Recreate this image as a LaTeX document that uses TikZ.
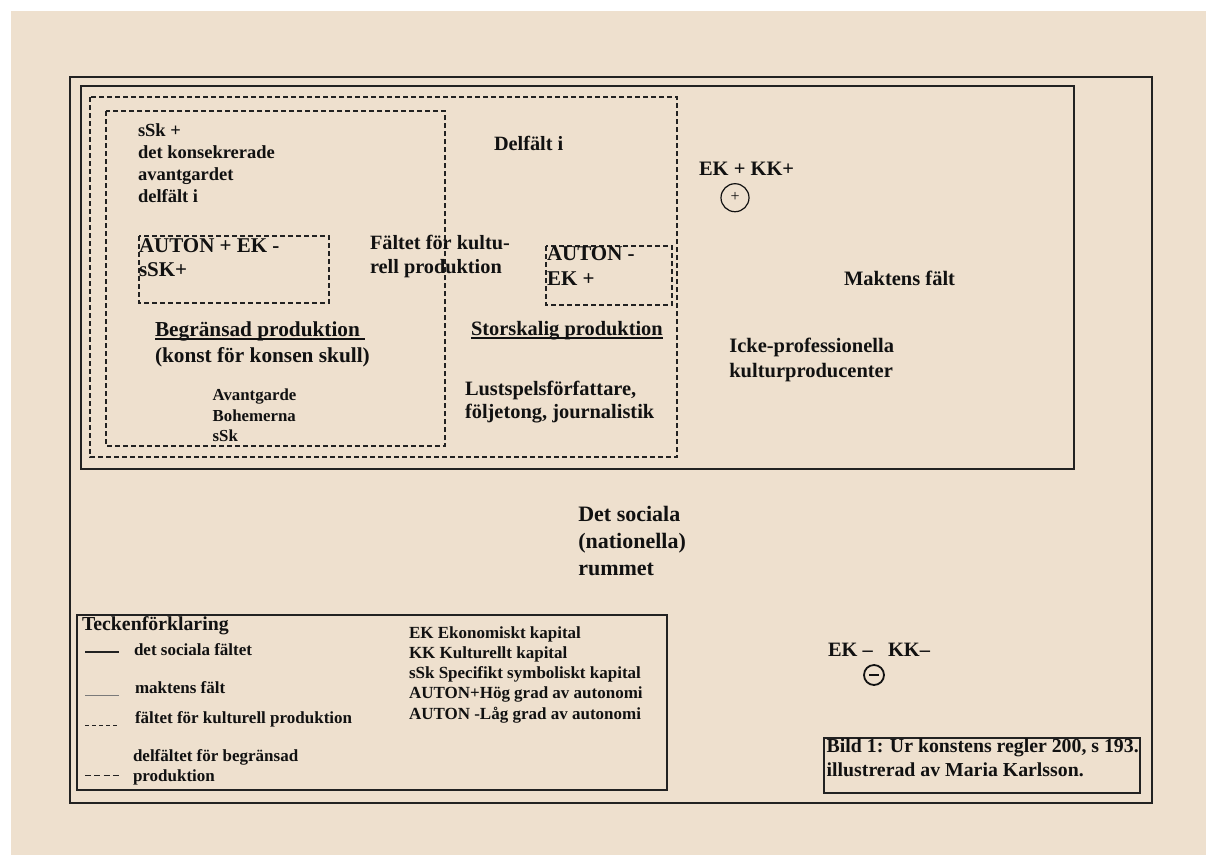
\documentclass[tikz,border=0pt]{standalone}
\usepackage{fontspec}
\setmainfont{Liberation Serif}
\definecolor{bg}{HTML}{EEE0CE}
\definecolor{ink}{HTML}{111111}
\definecolor{lineink}{HTML}{222222}
\definecolor{greyline}{HTML}{7A7A7A}
\tikzset{
  txt/.style={anchor=base west, inner sep=0pt, outer sep=0pt, text=ink,
    font=\bfseries\fontsize{#1}{#1}\selectfont},
  % multi-line: anchor is the baseline of the LAST line
  txtml/.style n args={2}{anchor=base west, inner sep=0pt, outer sep=0pt, text=ink,
    align=left, font=\bfseries\fontsize{#1}{#2}\selectfont},
  solidbox/.style={draw=lineink, line width=#1},
  dashbox/.style={draw=lineink, line width=1.5pt, dash pattern=on 5pt off 3pt},
  ulinestyle/.style={draw=ink, line width=1.4pt},
}
\begin{document}
\begin{tikzpicture}[x=1pt,y=-1pt]
\useasboundingbox (0,0) rectangle (1206,855);
\fill[white] (0,0) rectangle (1206,855);
\fill[bg] (11,11) rectangle (1206,855);

% boxes
\draw[solidbox=2pt] (70,77) rectangle (1152,803);
\draw[solidbox=1.5pt] (81,86) rectangle (1074,469);
\draw[dashbox] (90,97) rectangle (677,457);
\draw[dashbox] (106,111) rectangle (445,446);
\draw[dashbox] (139,236) rectangle (329,303);
\draw[dashbox] (546,246) rectangle (672,305);
\draw[solidbox=1.5pt] (77,615) rectangle (667,790);
\draw[solidbox=1.5pt] (824,738) rectangle (1140,793);

% texts in begraensad
\node[txtml={18.5}{22}] (ssk) at (138,202) {sSk +\\det konsekrerade\\avantgardet\\delfält i};
\node[txtml={21}{24}] (autonp) at (139,276.7) {AUTON + EK -\\sSK+};
\node[txt=21.3] (begr) at (155,336) {Begränsad produktion};
\draw[ulinestyle] ([yshift=-3pt]begr.base west) -- ([yshift=-3pt,xshift=5pt]begr.base east);
\node[txt=21.3] (konst) at (155,362) {(konst för konsen skull)};
\node[txtml={16.8}{20.5}] (avant) at (212.7,441.7) {Avantgarde\\Bohemerna\\sSk};

% kulturell produktion
\node[txtml={20.3}{24}] (faltet) at (370,273) {Fältet för kultu-\\rell produktion};
\node[txt=20.3] (delfalt) at (494,150) {Delfält i};
\node[txtml={21}{24.3}] (autonm) at (547,285) {AUTON -\\EK +};
\node[txt=20.4] (stor) at (471,335) {Storskalig produktion};
\draw[ulinestyle] ([yshift=-3pt]stor.base west) -- ([yshift=-3pt]stor.base east);
\node[txtml={20.4}{23}] (lust) at (465,418) {Lustspelsförfattare,\\följetong, journalistik};

% maktens falt
\node[txt=20.5] (ekkk) at (699,175.7) {EK + KK+};
\node[circle, draw=ink, line width=1.2pt, minimum size=28pt, inner sep=0pt, text=ink,
  font=\fontsize{16}{16}\selectfont] (plus) at (735,197.7) {\raisebox{1.5pt}{+}};
\node[txt=20.5] (maktens) at (844,285.7) {Maktens fält};
\node[txtml={20.5}{25}] (icke) at (729.3,377.7) {Icke-professionella\\kulturproducenter};

% social
\node[txtml={22}{26.7}] (social) at (578.3,575.1) {Det sociala\\(nationella)\\rummet};
\node[txt=20.4] (ekkkm) at (828,656) {EK –\ \ \ KK–};
\node[circle, draw=ink, line width=1.8pt, minimum size=20pt, inner sep=0pt] (minus) at (874,675) {};
\draw[ink, line width=1.8pt] ([xshift=-5pt]minus.center) -- ([xshift=5pt]minus.center);

% legend
\node[txt=19.8] (teck) at (82,630) {Teckenförklaring};
\coordinate (l1a) at (85,652); \coordinate (l1b) at (119,652);
\draw[lineink, line width=1.6pt] (l1a) -- (l1b);
\node[txt=17] (leg1) at (134,655.7) {det sociala fältet};
\coordinate (l2a) at (85,695); \coordinate (l2b) at (119,695);
\draw[greyline, line width=0.8pt] (l2a) -- (l2b);
\node[txt=17] (leg2) at (135,693) {maktens fält};
\coordinate (l3a) at (85,725.5); \coordinate (l3b) at (119,725.5);
\draw[lineink, line width=1pt, dash pattern=on 4pt off 3pt] (l3a) -- (l3b);
\node[txt=17] (leg3) at (135,723) {fältet för kulturell produktion};
\coordinate (l4a) at (85,775.5); \coordinate (l4b) at (119,775.5);
\draw[lineink, line width=1.8pt, dash pattern=on 6pt off 3.3pt] (l4a) -- (l4b);
\node[txtml={17}{20}] (leg4) at (133,781.7) {delfältet för begränsad\\produktion};

\node[txtml={17}{20.2}] (abbr) at (409,719.1) {EK Ekonomiskt kapital\\KK Kulturellt kapital\\sSk Specifikt symboliskt kapital\\AUTON+Hög grad av autonomi\\AUTON -Låg grad av autonomi};

% caption
\node[txtml={19.8}{24}] (caption) at (826.7,776.7) {Bild 1: Ur konstens regler 200, s 193.\\illustrerad av Maria Karlsson.};
\end{tikzpicture}
\end{document}
